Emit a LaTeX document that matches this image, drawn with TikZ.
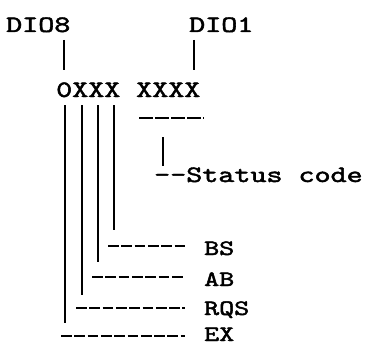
\documentclass[tikz,border=0pt]{standalone}
\usepackage{fontspec}
\setmonofont[FakeBold=1.8]{lmmono10-regular.otf}
\begin{document}
\begin{tikzpicture}[x=1pt,y=-1pt,
  txt/.style={inner sep=0pt,anchor=base west,font=\ttfamily\fontsize{23.5}{23.5}\selectfont},
  lab/.style={inner sep=0pt,anchor=base west,font=\ttfamily\fontsize{22}{22}\selectfont},
  bar/.style={line width=2.8pt},
  dline/.style={line width=2.6pt,dash pattern=on 10.8pt off 2.5pt},
  tdline/.style={line width=2.6pt,dash pattern=on 13.5pt off 2.5pt}]
\useasboundingbox (0,0) rectangle (366,345);
% top labels
\node[txt] (dio8) at (6,32) {\scalebox{1.3}[1]{DIO8}};
\node[txt] (dio1) at (189,32) {\scalebox{1.3}[1]{DIO1}};
\node[txt] (hi) at (56,97) {\scalebox{1.3}[1]{0XXX}};
\node[txt] (lo) at (136,97) {\scalebox{1.3}[1]{XXXX}};
\node[txt] (stat) at (154,182) {\scalebox{1.3}[1]{--Status code}};
% bottom labels
\node[lab] (bs) at (204,255) {\scalebox{1.3}[1]{BS}};
\node[lab] (ab) at (204,286) {\scalebox{1.3}[1]{AB}};
\node[lab] (rqs) at (204,315) {\scalebox{1.3}[1]{RQS}};
\node[lab] (ex) at (204,341) {\scalebox{1.3}[1]{EX}};
% coordinates
\coordinate (d8a) at (64,40);  \coordinate (d8b) at (64,70);
\coordinate (d1a) at (194,40); \coordinate (d1b) at (194,70);
\coordinate (c1a) at (65,105);  \coordinate (c1b) at (65,323);
\coordinate (c2a) at (82,105);  \coordinate (c2b) at (82,295);
\coordinate (c3a) at (98,105);  \coordinate (c3b) at (98,262);
\coordinate (c4a) at (114,105); \coordinate (c4b) at (114,230);
\coordinate (sa) at (163,137);  \coordinate (sb) at (163,166);
\coordinate (ua) at (139,118);  \coordinate (ub) at (204,118);
\coordinate (hbs) at (108,246); \coordinate (hab) at (92,277);
\coordinate (hrqs) at (76,308); \coordinate (hex) at (61,336);
% bars
\draw[bar] (d8a) -- (d8b);
\draw[bar] (d1a) -- (d1b);
\draw[bar] (c1a) -- (c1b);
\draw[bar] (c2a) -- (c2b);
\draw[bar] (c3a) -- (c3b);
\draw[bar] (c4a) -- (c4b);
\draw[bar] (sa) -- (sb);
% dashes
\draw[tdline] (ua) -- (ub);
\draw[dline] (hbs) -- ([xshift=-19pt]hbs -| bs.west);
\draw[dline] (hab) -- ([xshift=-19pt]hab -| ab.west);
\draw[dline] (hrqs) -- ([xshift=-19pt]hrqs -| rqs.west);
\draw[dline] (hex) -- ([xshift=-19pt]hex -| ex.west);
\end{tikzpicture}
\end{document}
